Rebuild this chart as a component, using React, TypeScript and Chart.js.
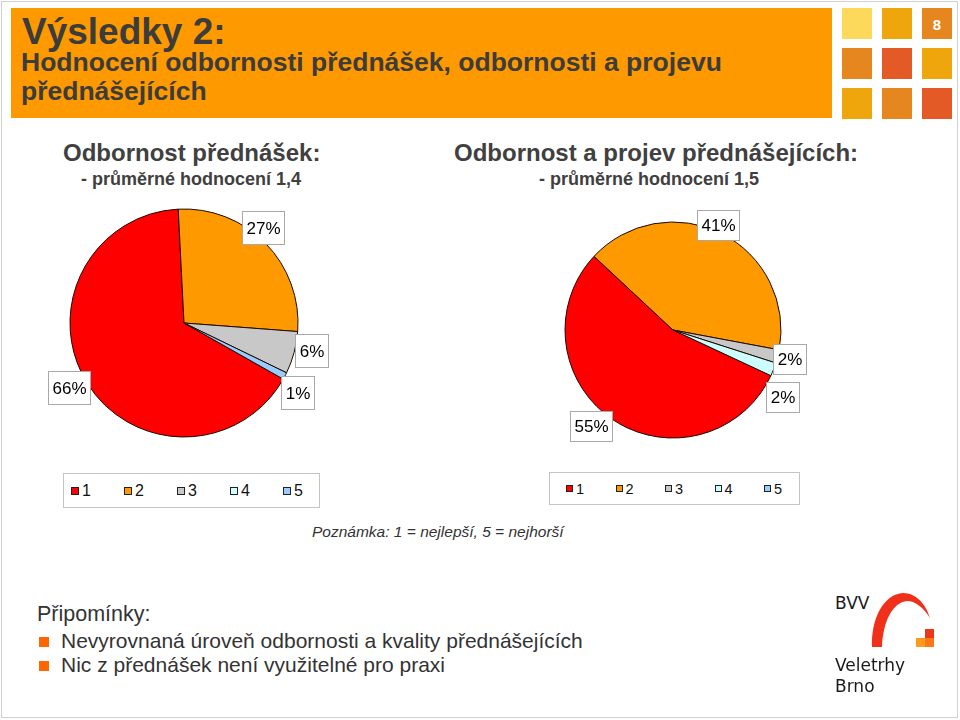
import React, { useEffect, useRef } from "react";
import { Chart, registerables } from "chart.js";

Chart.register(...registerables);

// ---- data ----
const categories = ["1", "2", "3", "4", "5"];
const sliceColors = ["#FF0000", "#FF9900", "#C8C8C8", "#CCFFFF", "#99CCFF"];
const lecturesValues = [66, 27, 6, 0, 1]; // Odbornost přednášek
const speakersValues = [55, 41, 2, 2, 0]; // Odbornost a projev přednášejících
const lecturesAverage = "1,4";
const speakersAverage = "1,5";
const remarks = [
  "Nevyrovnaná úroveň odbornosti a kvality přednášejících",
  "Nic z přednášek není využitelné pro praxi",
];

// ---- layout (label placement tweaks: [angle shift deg, extra radius px]) ----
const lecturesNudges = [[2.4, 18], [-6, 10], [-3, 16], [0, 0], [4, 19]];
const speakersNudges = [[6.7, 18], [-3.6, 6], [0, 12], [10, 20], [0, 0]];

const FONT = '"Liberation Sans", Arial, Helvetica, sans-serif';

type PieProps = {
  values: number[];
  rotation: number;
  radius: number;
  nudges: number[][];
  left: number;
  top: number;
  width: number;
  height: number;
  fontSize: number;
  boxH: number;
};

function PieChart({ values, rotation, radius, nudges, left, top, width, height, fontSize, boxH }: PieProps) {
  const ref = useRef<HTMLCanvasElement>(null);
  useEffect(() => {
    if (!ref.current) return;
    const labelPlugin = {
      id: "boxLabels",
      afterDatasetsDraw(chart: any) {
        const ctx = chart.ctx as CanvasRenderingContext2D;
        const meta = chart.getDatasetMeta(0);
        ctx.save();
        ctx.font = `${fontSize}px ${FONT}`;
        ctx.textAlign = "center";
        ctx.textBaseline = "middle";
        meta.data.forEach((arc: any, i: number) => {
          const v = values[i];
          if (!v) return;
          const p = arc.getProps(["x", "y", "startAngle", "endAngle", "outerRadius"], true);
          const [dA, dR] = nudges[i];
          const mid = (p.startAngle + p.endAngle) / 2 + (dA * Math.PI) / 180;
          const d = p.outerRadius + dR;
          const cx = p.x + Math.cos(mid) * d;
          const cy = p.y + Math.sin(mid) * d;
          const text = `${v}%`;
          const w = Math.round(ctx.measureText(text).width + 8);
          const h = boxH;
          const bx = Math.round(cx - w / 2) + 0.5;
          const by = Math.round(cy - h / 2) + 0.5;
          ctx.fillStyle = "#FFFFFF";
          ctx.fillRect(bx, by, w, h);
          ctx.strokeStyle = "#A8A8A8";
          ctx.lineWidth = 1;
          ctx.strokeRect(bx, by, w, h);
          ctx.fillStyle = "#000000";
          ctx.fillText(text, bx + w / 2, by + h / 2 + 1);
        });
        ctx.restore();
      },
    };
    const chart = new Chart(ref.current, {
      type: "pie",
      data: {
        labels: categories,
        datasets: [
          {
            data: values,
            backgroundColor: sliceColors,
            borderColor: "#1A0800",
            borderWidth: 1,
            radius,
          } as any,
        ],
      },
      options: {
        responsive: false,
        animation: false,
        rotation,
        radius,
        layout: { padding: 0 },
        plugins: { legend: { display: false }, tooltip: { enabled: false } },
      } as any,
      plugins: [labelPlugin],
    });
    return () => chart.destroy();
  }, []);
  return (
    <canvas
      ref={ref}
      width={width}
      height={height}
      style={{ position: "absolute", left, top, width, height }}
    />
  );
}

type LegendProps = {
  left: number;
  top: number;
  width: number;
  height: number;
  first: number;
  step: number;
  fontSize: number;
  sq: number;
};

function Legend({ left, top, width, height, first, step, fontSize, sq }: LegendProps) {
  return (
    <div
      style={{
        position: "absolute",
        left,
        top,
        width,
        height,
        boxSizing: "border-box",
        border: "1px solid #C4C4C4",
        background: "#fff",
      }}
    >
      {categories.map((c, i) => (
        <div
          key={c}
          style={{
            position: "absolute",
            left: first + i * step,
            top: 0,
            height: height - 2,
            display: "flex",
            alignItems: "center",
            fontFamily: FONT,
            fontSize,
            color: "#111",
          }}
        >
          <span
            style={{
              display: "inline-block",
              width: sq,
              height: sq,
              boxSizing: "border-box",
              background: sliceColors[i],
              border: "1px solid #222",
              marginRight: 3,
            }}
          />
          <span>{c}</span>
        </div>
      ))}
    </div>
  );
}

const abs = (s: React.CSSProperties): React.CSSProperties => ({ position: "absolute", ...s });

const squares = [
  ["#FDD95B", "#EFA60C", "#E5861E"],
  ["#E5861E", "#E35A27", "#EFA60C"],
  ["#EFA60C", "#E5861E", "#E35A27"],
];

export default function App() {
  return (
    <div
      style={{
        position: "fixed",
        left: 0,
        top: 0,
        width: 960,
        height: 720,
        background: "#fff",
        overflow: "hidden",
        fontFamily: FONT,
      }}
    >
      {/* slide frame */}
      <div style={abs({ left: 1, top: 1, width: 957, height: 717, boxSizing: "border-box", border: "1px solid #D0D0D0" })} />

      {/* header bar */}
      <div style={abs({ left: 11, top: 8, width: 821, height: 110, background: "#FF9900" })} />
      <div style={abs({ left: 22, top: 44 - 0.8465 * 37, fontSize: 37, lineHeight: "37px", fontWeight: 700, color: "#3C3C3C", whiteSpace: "nowrap" })}>
        Výsledky 2:
      </div>
      <div style={abs({ left: 21, top: 47.5, fontSize: 26.5, lineHeight: "29px", fontWeight: 700, color: "#3C3C3C", whiteSpace: "nowrap" })}>
        Hodnocení odbornosti přednášek, odbornosti a projevu
        <br />
        přednášejících
      </div>

      {/* decorative squares */}
      {squares.map((row, r) =>
        row.map((col, c) => (
          <div key={`${r}-${c}`} style={abs({ left: 842 + c * 40, top: 8 + r * 40, width: 30, height: 31, background: col })} />
        ))
      )}
      <div style={abs({ left: 922, top: 8, width: 30, height: 31, display: "flex", alignItems: "center", justifyContent: "center", color: "#fff", fontWeight: 700, fontSize: 15, paddingTop: 2, boxSizing: "border-box" })}>
        8
      </div>

      {/* section headings */}
      <div style={abs({ left: 63, top: 140.7, fontSize: 24, lineHeight: "24px", fontWeight: 700, color: "#404040", whiteSpace: "nowrap" })}>
        Odbornost přednášek:
      </div>
      <div style={abs({ left: 81, top: 169.8, fontSize: 18, lineHeight: "18px", fontWeight: 700, color: "#404040", whiteSpace: "nowrap" })}>
        - průměrné hodnocení {lecturesAverage}
      </div>
      <div style={abs({ left: 454, top: 140.7, fontSize: 24, lineHeight: "24px", fontWeight: 700, color: "#404040", whiteSpace: "nowrap" })}>
        Odbornost a projev přednášejících:
      </div>
      <div style={abs({ left: 539, top: 169.8, fontSize: 18, lineHeight: "18px", fontWeight: 700, color: "#404040", whiteSpace: "nowrap" })}>
        - průměrné hodnocení {speakersAverage}
      </div>

      {/* pies */}
      <PieChart values={lecturesValues} rotation={119.5} radius={114} nudges={lecturesNudges} left={34} top={193} width={300} height={260} fontSize={17} boxH={33} />
      <PieChart values={speakersValues} rotation={115} radius={108} nudges={speakersNudges} left={523} top={200} width={300} height={260} fontSize={17} boxH={30} />

      {/* legends */}
      <Legend left={63} top={473} width={257} height={35} first={7} step={53} fontSize={16} sq={8} />
      <Legend left={549} top={472} width={251} height={33} first={16} step={49.5} fontSize={14.5} sq={7} />

      {/* note */}
      <div style={abs({ left: 312, top: 524, fontSize: 15.5, lineHeight: "15.5px", fontStyle: "italic", color: "#333", whiteSpace: "nowrap" })}>
        Poznámka: 1 = nejlepší, 5 = nejhorší
      </div>

      {/* remarks */}
      <div style={abs({ left: 37, top: 622 - 0.8465 * 21.5, fontSize: 21.5, lineHeight: "21.5px", color: "#333", whiteSpace: "nowrap" })}>
        Připomínky:
      </div>
      {remarks.map((t, i) => (
        <React.Fragment key={i}>
          <div style={abs({ left: 39, top: 637 + i * 24, width: 10, height: 10, background: "#FF6600" })} />
          <div style={abs({ left: 61, top: 648 + i * 24 - 0.8465 * 21, fontSize: 21, lineHeight: "21px", color: "#333", whiteSpace: "nowrap" })}>
            {t}
          </div>
        </React.Fragment>
      ))}

      {/* logo */}
      <div style={abs({ left: 835, top: 608 - 0.76 * 17, fontFamily: '"DejaVu Sans", sans-serif', fontSize: 17, lineHeight: "17px", color: "#1a1a1a" })}>
        BVV
      </div>
      <svg style={abs({ left: 0, top: 0 })} width={960} height={720}>
        <path
          d="M 872 647 C 871 618, 884 594, 903 593 C 916 593, 926 604, 930 618 C 923 607, 915 601, 907 601 C 893 602, 883 621, 882 647 Z"
          fill="#F0301A"
        />
        <rect x={925} y={629} width={9} height={9} fill="#E83A1A" />
        <rect x={916} y={638} width={9} height={9} fill="#FF9A1E" />
        <rect x={925} y={638} width={9} height={9} fill="#FF7518" />
      </svg>
      <div style={abs({ left: 835, top: 670 - 0.76 * 17, fontFamily: '"DejaVu Sans", sans-serif', fontSize: 17, lineHeight: "17px", color: "#1a1a1a" })}>
        Veletrhy
      </div>
      <div style={abs({ left: 835, top: 691 - 0.76 * 17, fontFamily: '"DejaVu Sans", sans-serif', fontSize: 17, lineHeight: "17px", color: "#1a1a1a" })}>
        Brno
      </div>
    </div>
  );
}
